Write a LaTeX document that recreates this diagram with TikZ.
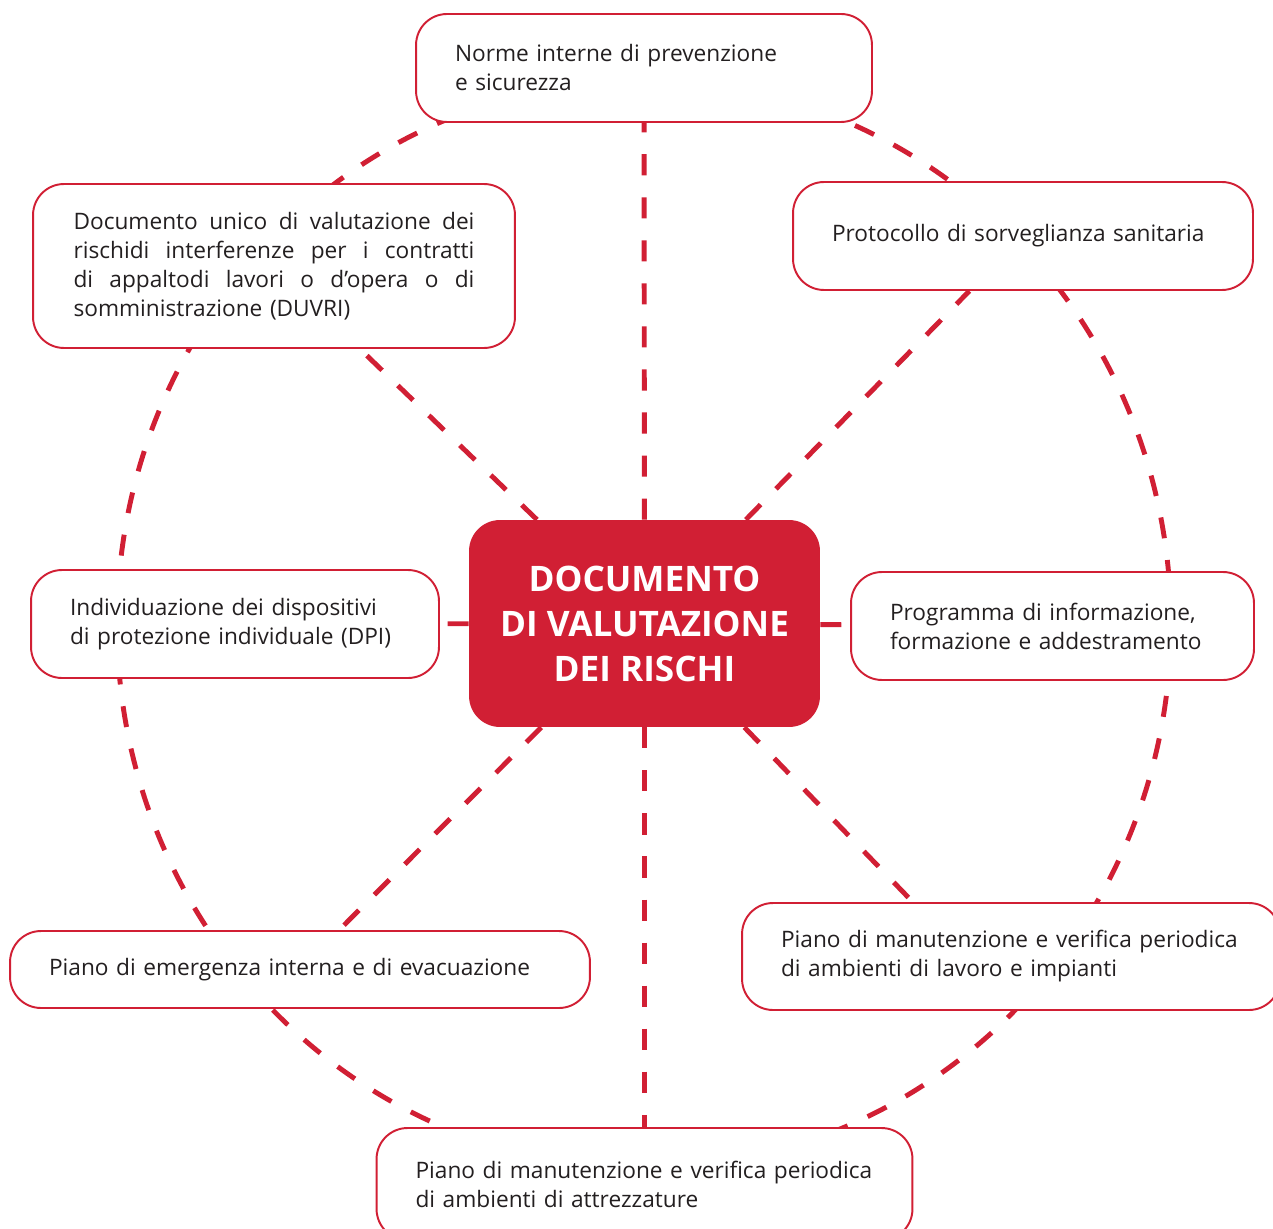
\documentclass[tikz,border=0pt]{standalone}
\usepackage{fontspec}
\setmainfont{Open Sans}
\usetikzlibrary{backgrounds}
\definecolor{rosso}{RGB}{209,31,52}
\definecolor{testo}{RGB}{35,31,32}
\newcommand{\riga}[1]{\leavevmode\hbox to 8.02cm{\spaceskip=0.28em plus 1fil\relax #1}}

\begin{document}
\begin{tikzpicture}[x=0.02cm,y=-0.02cm,
  box/.style={draw=rosso,line width=1.1pt,fill=white,rounded corners=0.62cm,
    text=testo,align=left,inner sep=0pt,font=\fontsize{12.9}{16.5}\selectfont},
  core/.style={fill=rosso,rounded corners=0.62cm,text=white,align=center,
    font=\fontsize{20}{25.6}\selectfont\bfseries,minimum width=7.02cm,minimum height=4.14cm},
  link/.style={draw=rosso,line width=2.8pt,dash pattern=on 12pt off 12.5pt}]
\useasboundingbox (0,0) rectangle (1273,1229);

% centre
\node[core] (dvr) at (644.5,623.5) {DOCUMENTO\\DI VALUTAZIONE\\DEI RISCHI};

% boxes round the centre
\node[box,minimum width=9.12cm,minimum height=2.16cm,text width=7.56cm] (norme) at (644,68)
  {Norme interne di prevenzione\\e sicurezza};
\node[box,minimum width=9.64cm,minimum height=3.28cm,text width=8.02cm] (duvri) at (274,266)
  {\riga{Documento unico di valutazione dei}\\\riga{rischidi interferenze per i contratti}\\
   \riga{di appaltodi lavori o d’opera o di}\\somministrazione (DUVRI)};
\node[box,minimum width=9.2cm,minimum height=2.16cm,text width=7.64cm] (protocollo) at (1023,236)
  {Protocollo di sorveglianza sanitaria};
\node[box,minimum width=8.16cm,minimum height=2.16cm,text width=6.6cm] (dpi) at (235,624)
  {Individuazione dei dispositivi\\di protezione individuale (DPI)};
\node[box,minimum width=8.06cm,minimum height=2.16cm,text width=6.5cm] (programma) at (1052.5,626)
  {Programma di informazione,\\formazione e addestramento};
\node[box,minimum width=11.6cm,minimum height=1.54cm,text width=10.04cm] (emergenza) at (300,969.5)
  {Piano di emergenza interna e di evacuazione};
\node[box,minimum width=10.76cm,minimum height=2.14cm,text width=9.2cm] (impianti) at (1011,956.5)
  {Piano di manutenzione e verifica periodica\\di ambienti di lavoro e impianti};
\node[box,minimum width=10.72cm,minimum height=2.24cm,text width=9.16cm] (attrezzature) at (644.5,1184)
  {Piano di manutenzione e verifica periodica\\di ambienti di attrezzature};

\begin{scope}[on background layer]
\draw[link] (644,624) ellipse [x radius=10.54cm,y radius=10.88cm];
\draw[link] (dvr) -- (norme);
\draw[link] (dvr) -- (attrezzature);
\draw[link] (dvr) -- (dpi);
\draw[link] (dvr) -- (programma);
\draw[link] (dvr) -- (duvri);
\draw[link] (dvr) -- (protocollo);
\draw[link] (dvr) -- (emergenza);
\draw[link] (dvr) -- (impianti.151);
\end{scope}
\end{tikzpicture}
\end{document}
